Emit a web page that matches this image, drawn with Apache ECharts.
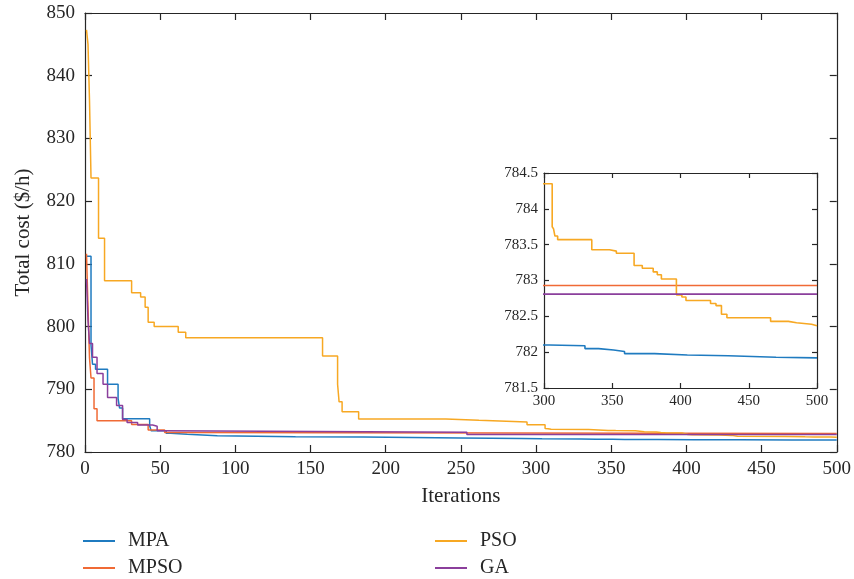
<!DOCTYPE html>
<html>
<head>
<meta charset="utf-8">
<script src="https://cdn.jsdelivr.net/npm/echarts@6/dist/echarts.min.js"></script>
<style>
html,body{margin:0;padding:0;background:#fff;}
#chart{width:854px;height:579px;}
</style>
</head>
<body>
<div id="chart"></div>
<script>
// Convergence data: iteration where a value starts, and the value held from there (step curves)
var mpaIter = [1, 4, 5, 7, 15, 22, 23, 25, 43, 44, 54, 57, 68, 88, 140, 185, 250, 290, 304, 330, 340, 351, 359, 381, 405, 435, 470, 500];
var mpaCost = [811.2, 797.0, 794.0, 793.2, 790.8, 788.5, 787.0, 785.3, 784.2, 783.4, 783.0, 782.85, 782.6, 782.45, 782.4, 782.25, 782.15, 782.1, 782.09, 782.05, 782.03, 782.01, 781.98, 781.96, 781.95, 781.93, 781.92, 781.92];

var mpsoIter = [1, 2, 3, 4, 6, 8, 31, 42, 53, 58, 500];
var mpsoCost = [811.6, 803.0, 795.0, 791.8, 786.9, 785.0, 784.4, 783.5, 783.1, 782.93, 782.93];

var psoIter = [1, 2, 3, 4, 9, 13, 31, 37, 40, 42, 46, 62, 67, 158, 168, 169, 171, 182, 240, 262, 294, 306, 307, 308, 310, 335, 348, 353, 366, 372, 380, 383, 386, 397, 401, 404, 422, 426, 430, 434, 466, 479, 485, 496, 500];
var psoCost = [847.3, 845.0, 836.0, 823.7, 814.1, 807.3, 805.4, 804.7, 803.1, 800.7, 800.0, 799.1, 798.2, 795.3, 790.8, 788.0, 786.4, 785.25, 785.05, 784.8, 784.35, 783.75, 783.72, 783.62, 783.57, 783.43, 783.41, 783.38, 783.21, 783.17, 783.12, 783.08, 783.02, 782.8, 782.77, 782.72, 782.68, 782.65, 782.53, 782.48, 782.43, 782.41, 782.39, 782.37, 782.37];

var gaIter = [1, 2, 3, 5, 8, 12, 15, 21, 25, 28, 35, 45, 48, 52, 254, 500];
var gaCost = [807.6, 801.0, 797.3, 795.1, 792.5, 790.8, 788.7, 787.4, 785.2, 784.7, 784.3, 784.1, 783.4, 783.15, 782.81, 782.81];

var seriesNames = ['MPA', 'MPSO', 'PSO', 'GA'];
var seriesColors = ['#1f7bc0', '#f06a35', '#f7a823', '#8b3f9c'];

var mainYTicks = {min: 780, max: 850, interval: 10};
var mainXTicks = {min: 0, max: 500, interval: 50};
var insetYTicks = {min: 781.5, max: 784.5, interval: 0.5};
var insetXTicks = {min: 300, max: 500, interval: 50};

function pairs(xs, ys) {
  var out = [];
  for (var i = 0; i < xs.length; i++) out.push([xs[i], ys[i]]);
  return out;
}
var allData = [pairs(mpaIter, mpaCost), pairs(mpsoIter, mpsoCost), pairs(psoIter, psoCost), pairs(gaIter, gaCost)];

var FONT = 'Liberation Serif';
var AX = '#262626';

function axisBase(range, opts) {
  var a = {
    type: 'value',
    min: range.min, max: range.max, interval: range.interval,
    axisLine: {show: true, onZero: false, lineStyle: {color: AX, width: 1.2}},
    axisTick: {show: true, inside: true, length: opts.tick, lineStyle: {color: AX, width: 1.2}},
    splitLine: {show: false},
    axisLabel: {show: opts.labels, color: AX, fontFamily: FONT, fontSize: opts.fontSize, margin: opts.margin}
  };
  for (var k in opts.extra || {}) a[k] = opts.extra[k];
  return a;
}

var xAxes = [
  axisBase(mainXTicks, {tick: 7, labels: true, fontSize: 19, margin: 8, extra: {gridIndex: 0, position: 'bottom', name: 'Iterations', nameLocation: 'middle', nameGap: 34, nameTextStyle: {color: AX, fontFamily: FONT, fontSize: 21}}}),
  axisBase(mainXTicks, {tick: 7, labels: false, extra: {gridIndex: 0, position: 'top'}}),
  axisBase(insetXTicks, {tick: 5, labels: true, fontSize: 15, margin: 6, extra: {gridIndex: 1, position: 'bottom'}}),
  axisBase(insetXTicks, {tick: 5, labels: false, extra: {gridIndex: 1, position: 'top'}})
];
var yAxes = [
  axisBase(mainYTicks, {tick: 7, labels: true, fontSize: 19, margin: 10, extra: {gridIndex: 0, position: 'left', name: 'Total cost ($/h)', nameLocation: 'middle', nameGap: 51, nameTextStyle: {color: AX, fontFamily: FONT, fontSize: 21}}}),
  axisBase(mainYTicks, {tick: 7, labels: false, extra: {gridIndex: 0, position: 'right'}}),
  axisBase(insetYTicks, {tick: 5, labels: true, fontSize: 15, margin: 6, extra: {gridIndex: 1, position: 'left'}}),
  axisBase(insetYTicks, {tick: 5, labels: false, extra: {gridIndex: 1, position: 'right'}})
];

var series = [];
for (var i = 0; i < 4; i++) {
  series.push({
    name: seriesNames[i], type: 'line', xAxisIndex: 0, yAxisIndex: 0,
    data: allData[i], step: 'end', showSymbol: false, symbol: 'none', clip: true,
    lineStyle: {color: seriesColors[i], width: 1.5}, itemStyle: {color: seriesColors[i]},
    animation: false, silent: true
  });
}
for (var j = 0; j < 4; j++) {
  series.push({
    name: seriesNames[j], type: 'line', xAxisIndex: 2, yAxisIndex: 2,
    data: allData[j], step: 'end', showSymbol: false, symbol: 'none', clip: true,
    lineStyle: {color: seriesColors[j], width: 1.6}, itemStyle: {color: seriesColors[j]},
    animation: false, silent: true
  });
}

var legendPos = [[83, 531], [83, 558], [435, 531], [435, 558]];
var legends = seriesNames.map(function (n, k) {
  return {
    data: [n], left: legendPos[k][0], top: legendPos[k][1], padding: 0,
    icon: 'rect', itemWidth: 32, itemHeight: 2,
    textStyle: {color: AX, fontFamily: FONT, fontSize: 20, padding: [0, 0, 0, 8]},
    selectedMode: false
  };
});

var chart = echarts.init(document.getElementById('chart'), null, {renderer: 'canvas'});
chart.setOption({
  animation: false,
  backgroundColor: '#fff',
  grid: [
    {left: 85, top: 13, right: 16, bottom: 127},
    {left: 544, top: 173, width: 273, height: 215, show: true, backgroundColor: '#fff', borderWidth: 0}
  ],
  legend: legends,
  xAxis: xAxes,
  yAxis: yAxes,
  series: series
});
</script>
</body>
</html>
